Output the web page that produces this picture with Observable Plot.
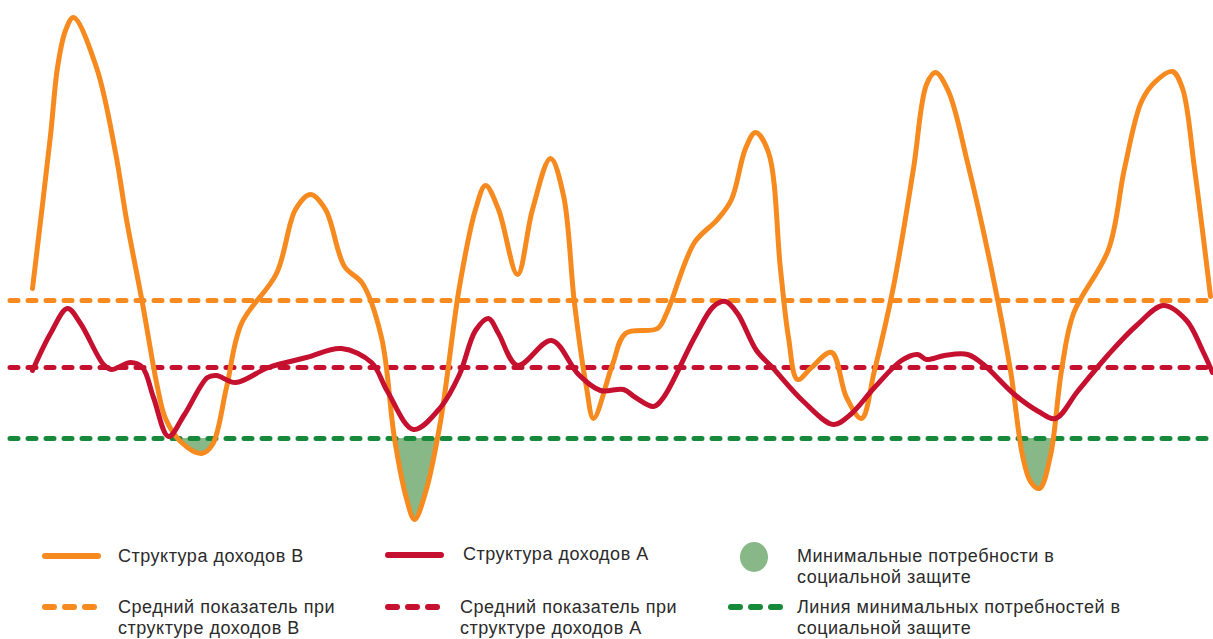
<!DOCTYPE html>
<html>
<head>
<meta charset="utf-8">
<script src="https://cdn.jsdelivr.net/npm/d3@7"></script>
<script src="https://cdn.jsdelivr.net/npm/@observablehq/plot@0.6"></script>
<style>
  html, body { margin: 0; padding: 0; background: #fff; }
  #wrap { width: 1213px; position: relative; }
  #legend { position: relative; width: 1213px; height: 109px; font-family: "Liberation Sans", Arial, sans-serif; font-size: 18px; letter-spacing: 0.5px; color: #2b2b2b; }
  .lt { position: absolute; line-height: 21px; white-space: nowrap; }
  .sw { position: absolute; }
</style>
</head>
<body>
<div id="wrap">
  <div id="chart"></div>
  <div id="legend"></div>
</div>
<script>
// Period index (horizontal position) and income level readings for structure B (orange)
const periodsB = [3.2,5.0,5.7,6.5,7.3,9.6,11.5,12.6,14.2,15.7,16.5,18.0,20.1,21.2,22.6,24.1,27.6,29.5,31.0,32.5,34.4,36.2,38.1,39.4,40.6,41.4,42.5,44.0,45.9,47.5,48.5,49.8,51.7,53.2,55.0,56.3,57.4,58.6,59.3,61.2,62.5,65.7,66.6,69.4,71.7,73.1,74.5,75.5,76.8,78.0,78.8,79.7,81.1,83.1,84.6,86.1,87.4,89.3,91.3,92.6,93.5,94.8,96.7,99.1,101.0,102.2,103.0,103.9,105.0,106.1,107.3,110.8,112.4,114.1,115.5,117.2,118.2,119.4,121.0];
const incomeB = [24.2,39.5,46.3,50.0,51.3,46.3,37.8,31.1,22.7,14.3,11.2,8.9,7.7,8.6,14.3,20.7,25.7,32.1,33.6,32.1,26.4,24.7,19.3,9.2,3.2,1.1,3.8,10.9,24.4,32.1,34.5,32.1,25.6,32.1,37.2,33.5,22.7,14.3,11.2,16.6,19.7,20.2,21.7,28.8,31.1,33.1,38.2,39.8,37.8,26.1,19.3,15.1,16.3,17.8,13.3,11.2,16.0,24.4,36.2,44.6,45.8,43.9,36.8,26.1,16.0,7.5,4.9,4.2,7.5,16.0,21.7,28.1,36.2,42.9,44.9,45.9,44.2,36.2,23.4];

// Structure A (red)
const periodsA = [3.2,5.0,6.7,8.0,10.3,11.1,13.0,14.2,15.3,16.8,18.4,20.7,21.6,23.5,26.8,30.6,34.1,37.1,38.7,41.3,44.0,45.9,47.5,48.8,49.8,51.7,55.1,57.8,60.0,62.3,63.5,65.3,66.3,69.4,71.3,72.5,73.7,75.6,77.2,80.3,83.3,85.0,87.4,90.1,91.7,92.6,94.4,96.7,98.3,101.4,103.8,105.5,107.7,110.8,113.6,116.3,118.6,120.2,121.2];
const incomeA = [16.0,19.7,22.2,20.7,16.6,16.1,16.8,16.3,13.3,9.4,11.6,15.3,15.5,14.8,16.3,17.3,18.2,16.8,13.9,10.1,12.3,15.6,20.0,21.2,19.7,16.5,19.0,15.6,14.0,14.1,13.3,12.4,13.3,19.3,22.4,22.9,21.7,18.0,16.3,12.9,10.6,11.6,14.3,17.0,17.6,17.1,17.5,17.6,16.6,13.6,11.9,11.2,13.9,17.6,20.5,22.5,21.0,18.0,15.8];

// Reference levels
const avgB = 23.0;
const avgA = 16.3;
const minNeeds = 9.2;
const periodSpan = [1.0, 121.3];
const domainX = [0, 121.3];
const domainY = [0, 53];

const legendLabels = [
  "Структура доходов В",
  "Структура доходов А",
  "Минимальные потребности в<br>социальной защите",
  "Средний показатель при<br>структуре доходов В",
  "Средний показатель при<br>структуре доходов А",
  "Линия минимальных потребностей в<br>социальной защите"
];

const cOrange = "#f68a1f";
const cRed = "#c5112f";
const cGreen = "#17893b";
const cFill = "#88b888";

const dataB = periodsB.map((t, i) => ({t, v: incomeB[i]}));
const dataA = periodsA.map((t, i) => ({t, v: incomeA[i]}));

const dash = {strokeWidth: 5, strokeDasharray: "8 10", strokeLinecap: "round"};

const chart = Plot.plot({
  width: 1213,
  height: 530,
  marginTop: 0, marginBottom: 0, marginLeft: 0, marginRight: 0,
  x: {domain: domainX, axis: null},
  y: {domain: domainY, axis: null},
  style: {background: "white", overflow: "visible"},
  marks: [
    Plot.areaY(dataB, {x: "t", y1: minNeeds, y2: "v", curve: "catmull-rom", fill: cFill}),
    Plot.ruleY([avgB], {x1: periodSpan[0], x2: periodSpan[1], stroke: cOrange, ...dash}),
    Plot.ruleY([avgA], {x1: periodSpan[0], x2: periodSpan[1], stroke: cRed, ...dash}),
    Plot.ruleY([minNeeds], {x1: periodSpan[0], x2: periodSpan[1], stroke: cGreen, ...dash}),
    Plot.line(dataB, {x: "t", y: "v", curve: "catmull-rom", stroke: cOrange, strokeWidth: 5, strokeLinejoin: "round", strokeLinecap: "round"}),
    Plot.line(dataA, {x: "t", y: "v", curve: "catmull-rom", stroke: cRed, strokeWidth: 5, strokeLinejoin: "round", strokeLinecap: "round"})
  ]
});

// clip the fill to the region below the minimum-needs line
const svg = d3.select(chart);
const yPix = chart.scale("y").apply(minNeeds);
const defs = svg.insert("defs", ":first-child");
defs.append("clipPath").attr("id", "belowMin")
  .append("rect").attr("x", 0).attr("y", yPix).attr("width", 1213).attr("height", 530 - yPix + 20);
svg.select('g[aria-label="area"]').attr("clip-path", "url(#belowMin)");

document.getElementById("chart").appendChild(chart);

// Legend
const legend = d3.select("#legend");
function lineSwatch(x, y, w, color, dashed) {
  const s = legend.append("svg").attr("class", "sw")
    .style("left", x + "px").style("top", (y - 6) + "px")
    .attr("width", w + 12).attr("height", 12);
  s.append("line").attr("x1", 5).attr("x2", w + 5).attr("y1", 6).attr("y2", 6)
    .attr("stroke", color).attr("stroke-width", 6)
    .attr("stroke-linecap", "round")
    .attr("stroke-dasharray", dashed ? "9 11" : null);
}
function label(x, y, html) {
  legend.append("div").attr("class", "lt")
    .style("left", x + "px").style("top", y + "px").html(html);
}
// rows relative to legend top (page y 530)
lineSwatch(40, 26, 53, cOrange, false);
lineSwatch(383, 25, 53, cRed, false);
legend.append("svg").attr("class", "sw").style("left", "739px").style("top", "11px")
  .attr("width", 30).attr("height", 32)
  .append("ellipse").attr("cx", 15).attr("cy", 16).attr("rx", 14).attr("ry", 15).attr("fill", cFill);
lineSwatch(40, 77, 50, cOrange, true);
lineSwatch(383, 77, 50, cRed, true);
lineSwatch(726, 77, 50, cGreen, true);

label(118, 16, legendLabels[0]);
label(463, 14, legendLabels[1]);
label(797, 16, legendLabels[2]);
label(118, 67, legendLabels[3]);
label(460, 67, legendLabels[4]);
label(797, 67, legendLabels[5]);
</script>
</body>
</html>
